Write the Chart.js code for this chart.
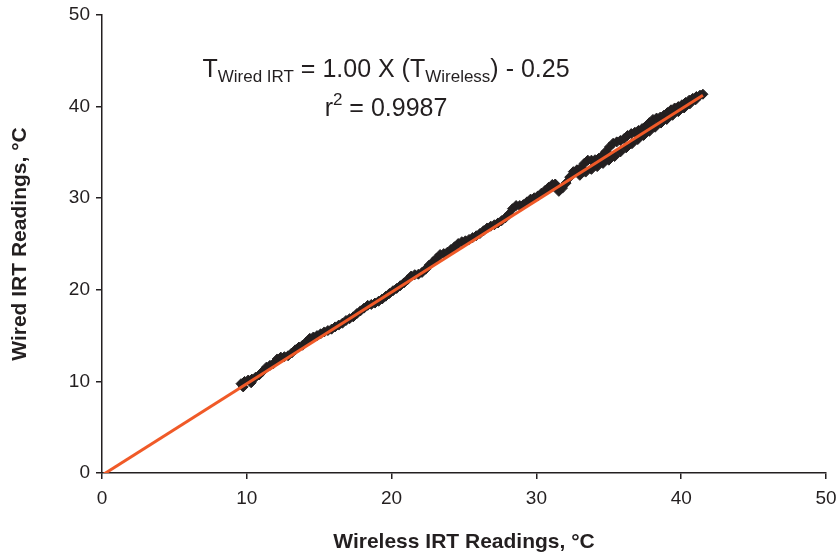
<!DOCTYPE html>
<html>
<head>
<meta charset="utf-8">
<title>Wired vs Wireless IRT Readings</title>
<script src="https://cdn.jsdelivr.net/npm/chart.js@4.4.1/dist/chart.umd.min.js"></script>
<style>
  html, body { margin: 0; padding: 0; background: #fff; }
  #wrap { width: 838px; height: 555px; }
</style>
</head>
<body>
<div id="wrap"><canvas id="irtChart"></canvas></div>
<script>
// Readings (deg C). Wireless on x, wired on y.
var wirelessTemps = [
  9.60, 9.85, 10.10, 10.35, 10.60, 10.85, 11.10, 11.35, 11.60, 11.85,
  12.10, 12.35, 12.60, 12.85, 13.10, 13.35, 13.60, 13.85, 14.10, 14.35,
  14.60, 14.85, 15.10, 15.35, 15.60, 15.85, 16.10, 16.35, 16.60, 16.85,
  17.10, 17.35, 17.60, 17.85, 18.10, 18.35, 18.60, 18.85, 19.10, 19.35,
  19.60, 19.85, 20.10, 20.35, 20.60, 20.85, 21.10, 21.35, 21.60, 21.85,
  22.10, 22.35, 22.60, 22.85, 23.10, 23.35, 23.60, 23.85, 24.10, 24.35,
  24.60, 24.85, 25.10, 25.35, 25.60, 25.85, 26.10, 26.35, 26.60, 26.85,
  27.10, 27.35, 27.60, 27.85, 28.10, 28.35, 28.60, 28.85, 29.10, 29.35,
  29.60, 29.85, 30.10, 30.35, 30.60, 30.85, 31.10, 31.30, 31.55, 31.80,
  32.05, 32.30, 32.55, 32.80, 33.05, 33.30, 33.55, 33.80, 34.05, 34.30,
  34.55, 34.80, 35.05, 35.30, 35.55, 35.80, 36.05, 36.30, 36.55, 36.80,
  37.05, 37.30, 37.55, 37.80, 38.05, 38.30, 38.55, 38.80, 39.05, 39.30,
  39.55, 39.80, 40.05, 40.30, 40.55, 40.80, 41.05, 41.30, 41.50,
  // lower edge of the thick upper part
  33.00, 33.40, 33.80, 34.20, 34.60, 35.00, 35.40, 35.80, 36.20, 36.60,
  37.00, 37.40, 37.80, 38.20, 38.60, 39.00, 39.40, 39.80, 40.20, 40.60,
  41.00,
  // start blob
  9.75, 10.30
];
var wiredTemps = [
  9.75, 10.00, 10.15, 10.25, 10.45, 10.70, 11.10, 11.55, 11.75, 11.95,
  12.45, 12.65, 12.70, 12.80, 13.10, 13.45, 13.75, 13.95, 14.30, 14.70,
  14.85, 15.00, 15.20, 15.40, 15.55, 15.70, 15.95, 16.15, 16.35, 16.65,
  16.85, 17.05, 17.40, 17.70, 18.00, 18.30, 18.40, 18.55, 18.75, 19.00,
  19.30, 19.60, 19.90, 20.15, 20.45, 20.75, 21.10, 21.50, 21.65, 21.70,
  21.90, 22.25, 22.70, 23.05, 23.45, 23.85, 23.95, 24.10, 24.40, 24.70,
  25.05, 25.25, 25.35, 25.50, 25.70, 25.90, 26.15, 26.45, 26.75, 26.95,
  27.10, 27.30, 27.55, 27.85, 28.25, 28.85, 29.20, 29.20, 29.30, 29.60,
  29.90, 30.05, 30.25, 30.55, 30.85, 31.20, 31.50, 31.55, 30.75, 31.10,
  31.65, 32.30, 32.90, 33.10, 33.30, 33.80, 34.15, 34.15, 34.20, 34.35,
  34.65, 35.10, 35.60, 36.00, 36.15, 36.30, 36.50, 36.85, 37.05, 37.20,
  37.40, 37.60, 37.85, 38.25, 38.60, 38.75, 38.85, 39.05, 39.35, 39.65,
  39.85, 40.00, 40.20, 40.45, 40.70, 40.90, 41.10, 41.25, 41.35,
  32.50, 32.85, 33.15, 33.45, 33.80, 34.15, 34.55, 35.05, 35.50, 35.95,
  36.40, 36.85, 37.30, 37.75, 38.20, 38.60, 39.05, 39.45, 39.85, 40.30,
  40.75,
  9.40, 9.85
];

// regression line: T wired = 1.00 x T wireless - 0.25
var fitX = [0, 41.5];
var fitY = [-0.25, 41.25];

var axisMin = 0;
var axisMax = 50;
var axisStep = 10;

var ink = '#231f20';
var fontFamily = '"Liberation Sans", Arial, Helvetica, sans-serif';

var readings = wirelessTemps.map(function(x, i) {
    return {x: x, y: wiredTemps[i]};
});
var fitPoints = fitX.map(function(x, i) {
    return {x: x, y: fitY[i]};
});

// draw a line of text made of runs with different sizes / baseline shifts, centred on cx
function drawRuns(ctx, runs, cx, baseY) {
    var total = 0;
    runs.forEach(function(r) {
        ctx.font = r[1] + 'px ' + fontFamily;
        total += ctx.measureText(r[0]).width;
    });
    var x = cx - total / 2;
    runs.forEach(function(r) {
        ctx.font = r[1] + 'px ' + fontFamily;
        ctx.fillText(r[0], x, baseY + r[2]);
        x += ctx.measureText(r[0]).width;
    });
}

var fitNote = {
    id: 'fitNote',
    afterDraw: function(chart) {
        var ctx = chart.ctx;
        ctx.save();
        ctx.fillStyle = ink;
        ctx.textAlign = 'left';
        ctx.textBaseline = 'alphabetic';
        drawRuns(ctx, [
            ['T', 25, 0],
            ['Wired IRT', 17, 5],
            [' = 1.00 X (T', 25, 0],
            ['Wireless', 17, 5],
            [') - 0.25', 25, 0]
        ], 386, 77);
        drawRuns(ctx, [
            ['r', 25, 0],
            ['2', 17, -11],
            [' = 0.9987', 25, 0]
        ], 386, 116);
        ctx.restore();
    }
};

function axisOptions(titleText, isY) {
    return {
        type: 'linear',
        min: axisMin,
        max: axisMax,
        title: {
            display: true,
            text: titleText,
            color: ink,
            font: {family: fontFamily, size: 21, weight: 'bold'},
            padding: isY ? {top: 8, bottom: 0} : {top: 0, bottom: 0}
        },
        ticks: {
            stepSize: axisStep,
            color: ink,
            font: {family: fontFamily, size: 19},
            padding: isY ? 6 : 8,
            maxRotation: 0
        },
        grid: {
            drawOnChartArea: false,
            drawTicks: true,
            tickLength: 6,
            color: ink,
            lineWidth: 1.5
        },
        border: {color: ink, width: 1.5},
        afterFit: function(scale) {
            if (isY) {
                scale.width = 102;
                scale.paddingTop = 0;
                scale.paddingBottom = 0;
            } else {
                scale.height = 82;
                scale.paddingLeft = 0;
                scale.paddingRight = 0;
            }
        }
    };
}

new Chart(document.getElementById('irtChart'), {
    type: 'scatter',
    data: {
        datasets: [{
            label: 'Linear fit',
            data: fitPoints,
            showLine: true,
            borderColor: '#f05a28',
            borderWidth: 3,
            pointRadius: 0,
            order: 0
        }, {
            label: 'Readings',
            data: readings,
            pointStyle: 'rectRot',
            pointRadius: 5,
            backgroundColor: ink,
            borderColor: ink,
            borderWidth: 1,
            order: 1
        }]
    },
    options: {
        responsive: true,
        maintainAspectRatio: false,
        animation: false,
        layout: {padding: {top: 15, right: 12, left: 0, bottom: 0}},
        plugins: {
            legend: {display: false},
            tooltip: {enabled: false}
        },
        scales: {
            x: axisOptions('Wireless IRT Readings, \u00b0C', false),
            y: axisOptions('Wired IRT Readings, \u00b0C', true)
        }
    },
    plugins: [fitNote]
});
</script>
</body>
</html>
